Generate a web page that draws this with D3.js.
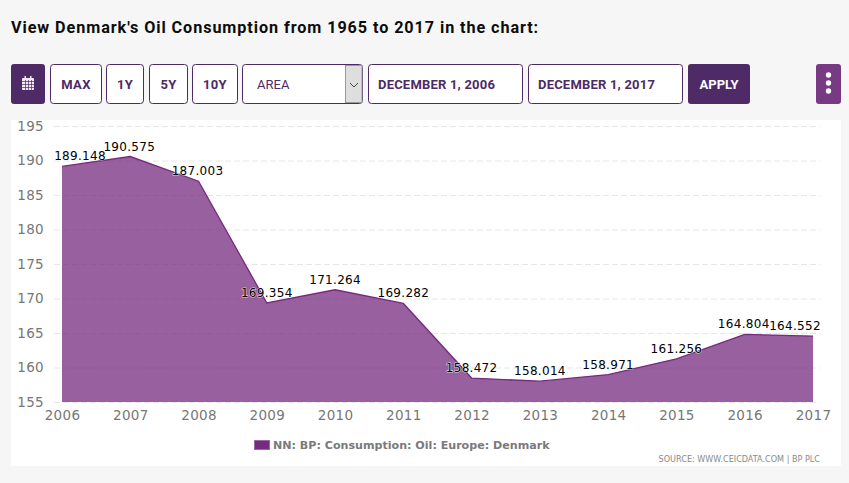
<!DOCTYPE html>
<html><head><meta charset="utf-8">
<script src="https://cdn.jsdelivr.net/npm/d3@7/dist/d3.min.js"></script>
<style>
html,body{margin:0;padding:0;background:#f6f6f6;overflow:hidden}
svg{display:block}
</style></head><body>
<svg id="c" width="849" height="483"></svg>
<script>
const years=[2006,2007,2008,2009,2010,2011,2012,2013,2014,2015,2016,2017];
const values=[189.148,190.575,187.003,169.354,171.264,169.282,158.472,158.014,158.971,161.256,164.804,164.552];
const yTicks=[155,160,165,170,175,180,185,190,195];
const labelNudgeX=[18,-1,-1,0,0,0,0,0,0,0,-1,-18];
const title="View Denmark's Oil Consumption from 1965 to 2017 in the chart:";
const seriesName="NN: BP: Consumption: Oil: Europe: Denmark";
const sourceText="SOURCE: WWW.CEICDATA.COM | BP PLC";
const buttons=[["MAX",50,51],["1Y",106,37],["5Y",149,38],["10Y",192,45]];
const dateBoxes=[["DECEMBER 1, 2006",368,155],["DECEMBER 1, 2017",528,155]];

const svg=d3.select("#c");
const roboto="Roboto, sans-serif", chartFont="'DejaVu Sans', Verdana, sans-serif";
const dark="#4e2a66", purple="#762b7e";
svg.append("text").attr("x",11).attr("y",33).attr("font-family",roboto).attr("font-weight",700)
  .attr("font-size",16.2).attr("letter-spacing",0.92).attr("fill","#0c0c0c").text(title);

// toolbar
svg.append("rect").attr("x",11).attr("y",64).attr("width",34).attr("height",40).attr("rx",3).attr("fill",dark);
const cal=svg.append("g").attr("transform","translate(22,78)").attr("fill","#f3eaf5");
cal.append("rect").attr("width",12).attr("height",12).attr("y",0).attr("rx",1);
cal.append("rect").attr("x",2.5).attr("y",-2).attr("width",1.5).attr("height",3);
cal.append("rect").attr("x",8).attr("y",-2).attr("width",1.5).attr("height",3);
[3,6,9].forEach(v=>{
  cal.append("rect").attr("x",0).attr("y",v).attr("width",12).attr("height",.7).attr("fill",dark);
  cal.append("rect").attr("x",v).attr("y",2).attr("width",.7).attr("height",10).attr("fill",dark);
});
buttons.forEach(([t,x,w])=>{
  svg.append("rect").attr("x",x+.5).attr("y",64.5).attr("width",w).attr("height",39).attr("rx",3).attr("fill","#fff").attr("stroke",dark);
  svg.append("text").attr("x",x+w/2+.5).attr("y",89).attr("text-anchor","middle").attr("font-family",roboto)
    .attr("font-weight",700).attr("font-size",13).attr("letter-spacing",.3).attr("fill",dark).text(t);
});
svg.append("rect").attr("x",242.5).attr("y",64.5).attr("width",120).attr("height",39).attr("rx",3).attr("fill","#fff").attr("stroke",dark);
svg.append("rect").attr("x",345.5).attr("y",65.5).attr("width",16.5).attr("height",37).attr("fill","#dedede").attr("stroke","#9a9a9a");
svg.append("path").attr("d","M350 83 L354 87 L358 83").attr("fill","none").attr("stroke","#444").attr("stroke-width",1);
svg.append("text").attr("x",257).attr("y",89).attr("font-family",roboto).attr("font-size",13).attr("fill",dark).text("AREA");
dateBoxes.forEach(([t,x,w])=>{
  svg.append("rect").attr("x",x+.5).attr("y",64.5).attr("width",w-1).attr("height",39).attr("rx",3).attr("fill","#fff").attr("stroke",dark);
  svg.append("text").attr("x",x+10).attr("y",88.5).attr("font-family",roboto).attr("font-weight",700)
    .attr("font-size",13).attr("letter-spacing",.2).attr("fill",dark).text(t);
});
svg.append("rect").attr("x",688).attr("y",64).attr("width",62).attr("height",40).attr("rx",3).attr("fill",dark);
svg.append("text").attr("x",719).attr("y",89).attr("text-anchor","middle").attr("font-family",roboto).attr("font-weight",700)
  .attr("font-size",13).attr("fill","#fff").text("APPLY");
svg.append("rect").attr("x",816).attr("y",64).attr("width",25).attr("height",40).attr("rx",3).attr("fill","#773a83");
[75,83,91].forEach(cy=>svg.append("circle").attr("cx",828.5).attr("cy",cy).attr("r",2.7).attr("fill","#fff"));

// panel
svg.append("rect").attr("x",11).attr("y",120).attr("width",830).attr("height",346).attr("fill","#fff");

const x=d3.scalePoint().domain(years).range([62,813]);
const y=d3.scaleLinear().domain([155,195]).range([402,126]);

const gy=svg.append("g").attr("transform","translate(62,0)")
  .call(d3.axisLeft(y).tickValues(yTicks).tickSize(0).tickPadding(18).tickFormat(d3.format("d")));
gy.select(".domain").remove();
gy.selectAll("text").attr("font-family",chartFont).attr("font-size",13.5).attr("fill","#777").attr("letter-spacing",.3);
gy.selectAll(".tick line").attr("x1",-8).attr("x2",758).attr("stroke","#e6e6e6").attr("stroke-dasharray","6,3");

const gx=svg.append("g").attr("transform","translate(0,402)")
  .call(d3.axisBottom(x).tickSize(0).tickPadding(8).tickFormat(d3.format("d")));
gx.select(".domain").remove();
gx.selectAll("text").attr("font-family",chartFont).attr("font-size",13.5).attr("fill","#777").attr("letter-spacing",.3);

const area=d3.area().x((d,i)=>x(years[i])).y0(y(155)).y1(d=>y(d));
const line=d3.line().x((d,i)=>x(years[i])).y(d=>y(d));
svg.append("path").datum(values).attr("d",area).attr("fill",purple).attr("fill-opacity",.75);
svg.append("path").datum(values).attr("d",line).attr("fill","none").attr("stroke",purple).attr("stroke-width",1.3);

svg.append("g").selectAll("text").data(values).join("text")
  .attr("x",(d,i)=>x(years[i])+labelNudgeX[i])
  .attr("y",d=>y(d)-6)
  .attr("text-anchor","middle").attr("font-family",chartFont).attr("font-size",12).attr("letter-spacing",.3)
  .attr("fill","#000").attr("stroke","#fff").attr("stroke-opacity",.7).attr("stroke-width",1.2).attr("paint-order","stroke")
  .text(d=>d3.format(".3f")(d));

// legend
svg.append("rect").attr("x",254.5).attr("y",440.5).attr("width",15).attr("height",9).attr("fill",purple).attr("stroke","#9a6aa3");
svg.append("text").attr("x",273).attr("y",449).attr("font-family",chartFont).attr("font-weight",700).attr("font-size",11.1)
  .attr("fill","#7a7a7a").text(seriesName);
svg.append("text").attr("x",820).attr("y",462).attr("text-anchor","end").attr("font-family",chartFont)
  .attr("font-size",8.1).attr("fill","#8a8a8a").text(sourceText);
</script>
</body></html>
